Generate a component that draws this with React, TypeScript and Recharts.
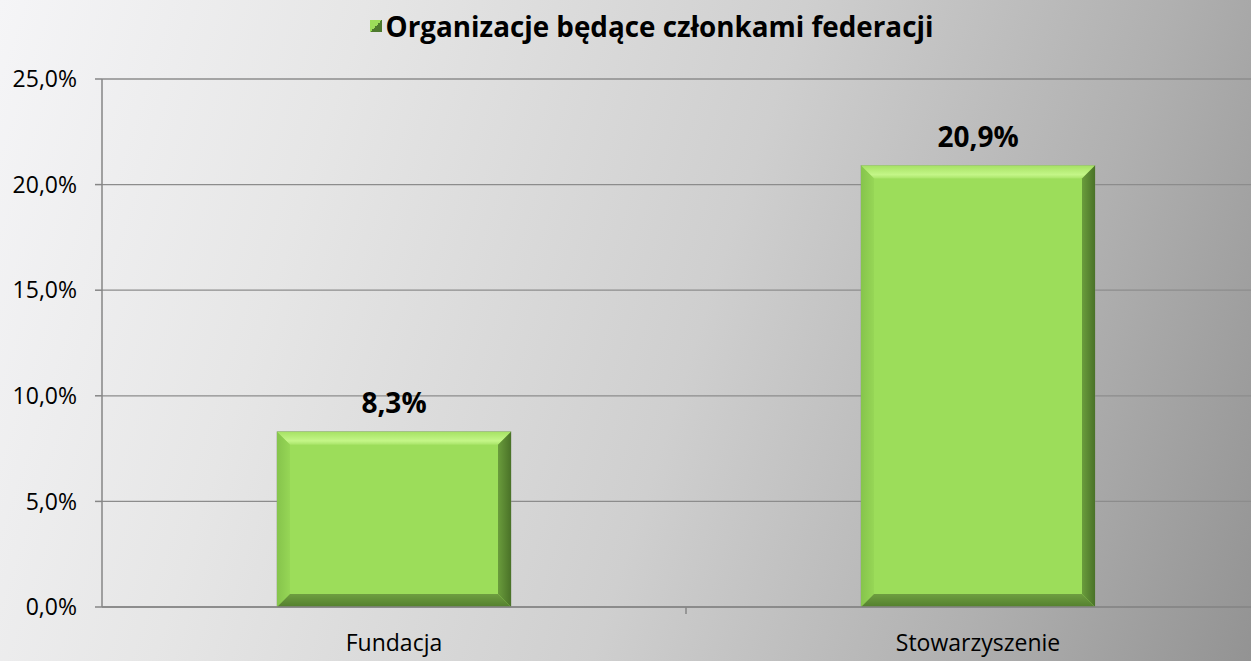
import React from 'react'
import { BarChart, Bar, XAxis, YAxis, CartesianGrid, LabelList } from 'recharts'

const categories = ['Fundacja', 'Stowarzyszenie']
const values = [8.3, 20.9]
const yTicks = [0, 5, 10, 15, 20, 25]
const title = 'Organizacje będące członkami federacji'

const data = categories.map((name, i) => ({ name, value: values[i] }))

const fmt = (v: number) => `${v.toFixed(1).replace('.', ',')}%`
const font = '"Open Sans", "Noto Sans", sans-serif'

function BevelBar(props: any) {
  const { x, y, width, height } = props
  const b = Math.min(13, height / 2)
  const r = x + width
  const btm = y + height
  return (
    <g>
      <rect x={x} y={y} width={width} height={height} fill="#9cdd5a" stroke="#8a9a80" strokeWidth={0.6} />
      <polygon points={`${x},${y} ${r},${y} ${r - b},${y + b} ${x + b},${y + b}`} fill="url(#bevelTop)" />
      <polygon points={`${x},${y} ${x + b},${y + b} ${x + b},${btm - b} ${x},${btm}`} fill="url(#bevelLeft)" />
      <polygon points={`${r},${y} ${r},${btm} ${r - b},${btm - b} ${r - b},${y + b}`} fill="url(#bevelRight)" />
      <polygon points={`${x},${btm} ${x + b},${btm - b} ${r - b},${btm - b} ${r},${btm}`} fill="url(#bevelBottom)" />
    </g>
  )
}

function CatTick(props: any) {
  const { x, y, payload } = props
  const off = payload.offset || 0
  return (
    <g>
      <line x1={x + off} x2={x + off} y1={y - 8} y2={y - 1} stroke="#868686" strokeWidth={1.5} />
      <text x={x} y={y + 36} textAnchor="middle" fontFamily={font} fontSize={23} fill="#000">
        {payload.value}
      </text>
    </g>
  )
}

export default function App() {
  return (
    <div
      style={{
        position: 'absolute',
        left: 0,
        top: 0,
        width: 1251,
        height: 661,
        overflow: 'hidden',
        background: 'linear-gradient(108deg, #f5f5f7 0%, #e6e6e6 25%, #cfcfcf 55%, #b0b0b0 80%, #939393 100%)',
      }}
    >
      <div
        style={{
          position: 'absolute',
          top: 7,
          left: 52,
          width: 1199,
          textAlign: 'center',
          fontFamily: font,
          fontWeight: 700,
          fontSize: 27.8,
          lineHeight: '38px',
          color: '#000',
          display: 'flex',
          justifyContent: 'center',
          alignItems: 'center',
          gap: 4,
        }}
      >
        <span
          style={{
            display: 'inline-block',
            width: 12,
            height: 12,
            background: 'linear-gradient(135deg, #9cdd5a 50%, #4e7a2e 50%)',
          }}
        />
        <span>{title}</span>
      </div>
      <BarChart
        width={1270}
        height={661}
        data={data}
        margin={{ top: 79, right: 0, bottom: 0, left: 0 }}
        barSize={234}
        style={{ position: 'absolute', left: 0, top: 0 }}
      >
        <defs>
          <linearGradient id="bevelTop" x1="0" y1="0" x2="0" y2="1">
            <stop offset="0%" stopColor="#a6e264" />
            <stop offset="70%" stopColor="#c4f688" />
            <stop offset="100%" stopColor="#a8e468" />
          </linearGradient>
          <linearGradient id="bevelLeft" x1="0" y1="0" x2="1" y2="0">
            <stop offset="0%" stopColor="#86c44c" />
            <stop offset="100%" stopColor="#96d656" />
          </linearGradient>
          <linearGradient id="bevelRight" x1="0" y1="0" x2="1" y2="0">
            <stop offset="0%" stopColor="#6a9c3c" />
            <stop offset="100%" stopColor="#4a7228" />
          </linearGradient>
          <linearGradient id="bevelBottom" x1="0" y1="0" x2="0" y2="1">
            <stop offset="0%" stopColor="#6e9e40" />
            <stop offset="100%" stopColor="#54802e" />
          </linearGradient>
        </defs>
        <CartesianGrid vertical={false} stroke="#8c8c8c" strokeWidth={1.3} />
        <XAxis
          dataKey="name"
          height={54}
          axisLine={{ stroke: '#868686', strokeWidth: 1.5 }}
          tickLine={false}
          tick={<CatTick />}
          interval={0}
        />
        <YAxis
          domain={[0, 25]}
          ticks={yTicks}
          width={102}
          tickFormatter={fmt}
          tickSize={7}
          tickMargin={18}
          axisLine={{ stroke: '#868686', strokeWidth: 1.5 }}
          tickLine={{ stroke: '#868686', strokeWidth: 1.5 }}
          tick={{ fill: '#000', fontSize: 23, fontFamily: font }}
        />
        <Bar dataKey="value" shape={<BevelBar />} isAnimationActive={false}>
          <LabelList
            dataKey="value"
            position="top"
            offset={19}
            formatter={(v: any) => fmt(Number(v))}
            style={{ fill: '#000', fontSize: 28, fontWeight: 700, fontFamily: font }}
          />
        </Bar>
      </BarChart>
    </div>
  )
}
